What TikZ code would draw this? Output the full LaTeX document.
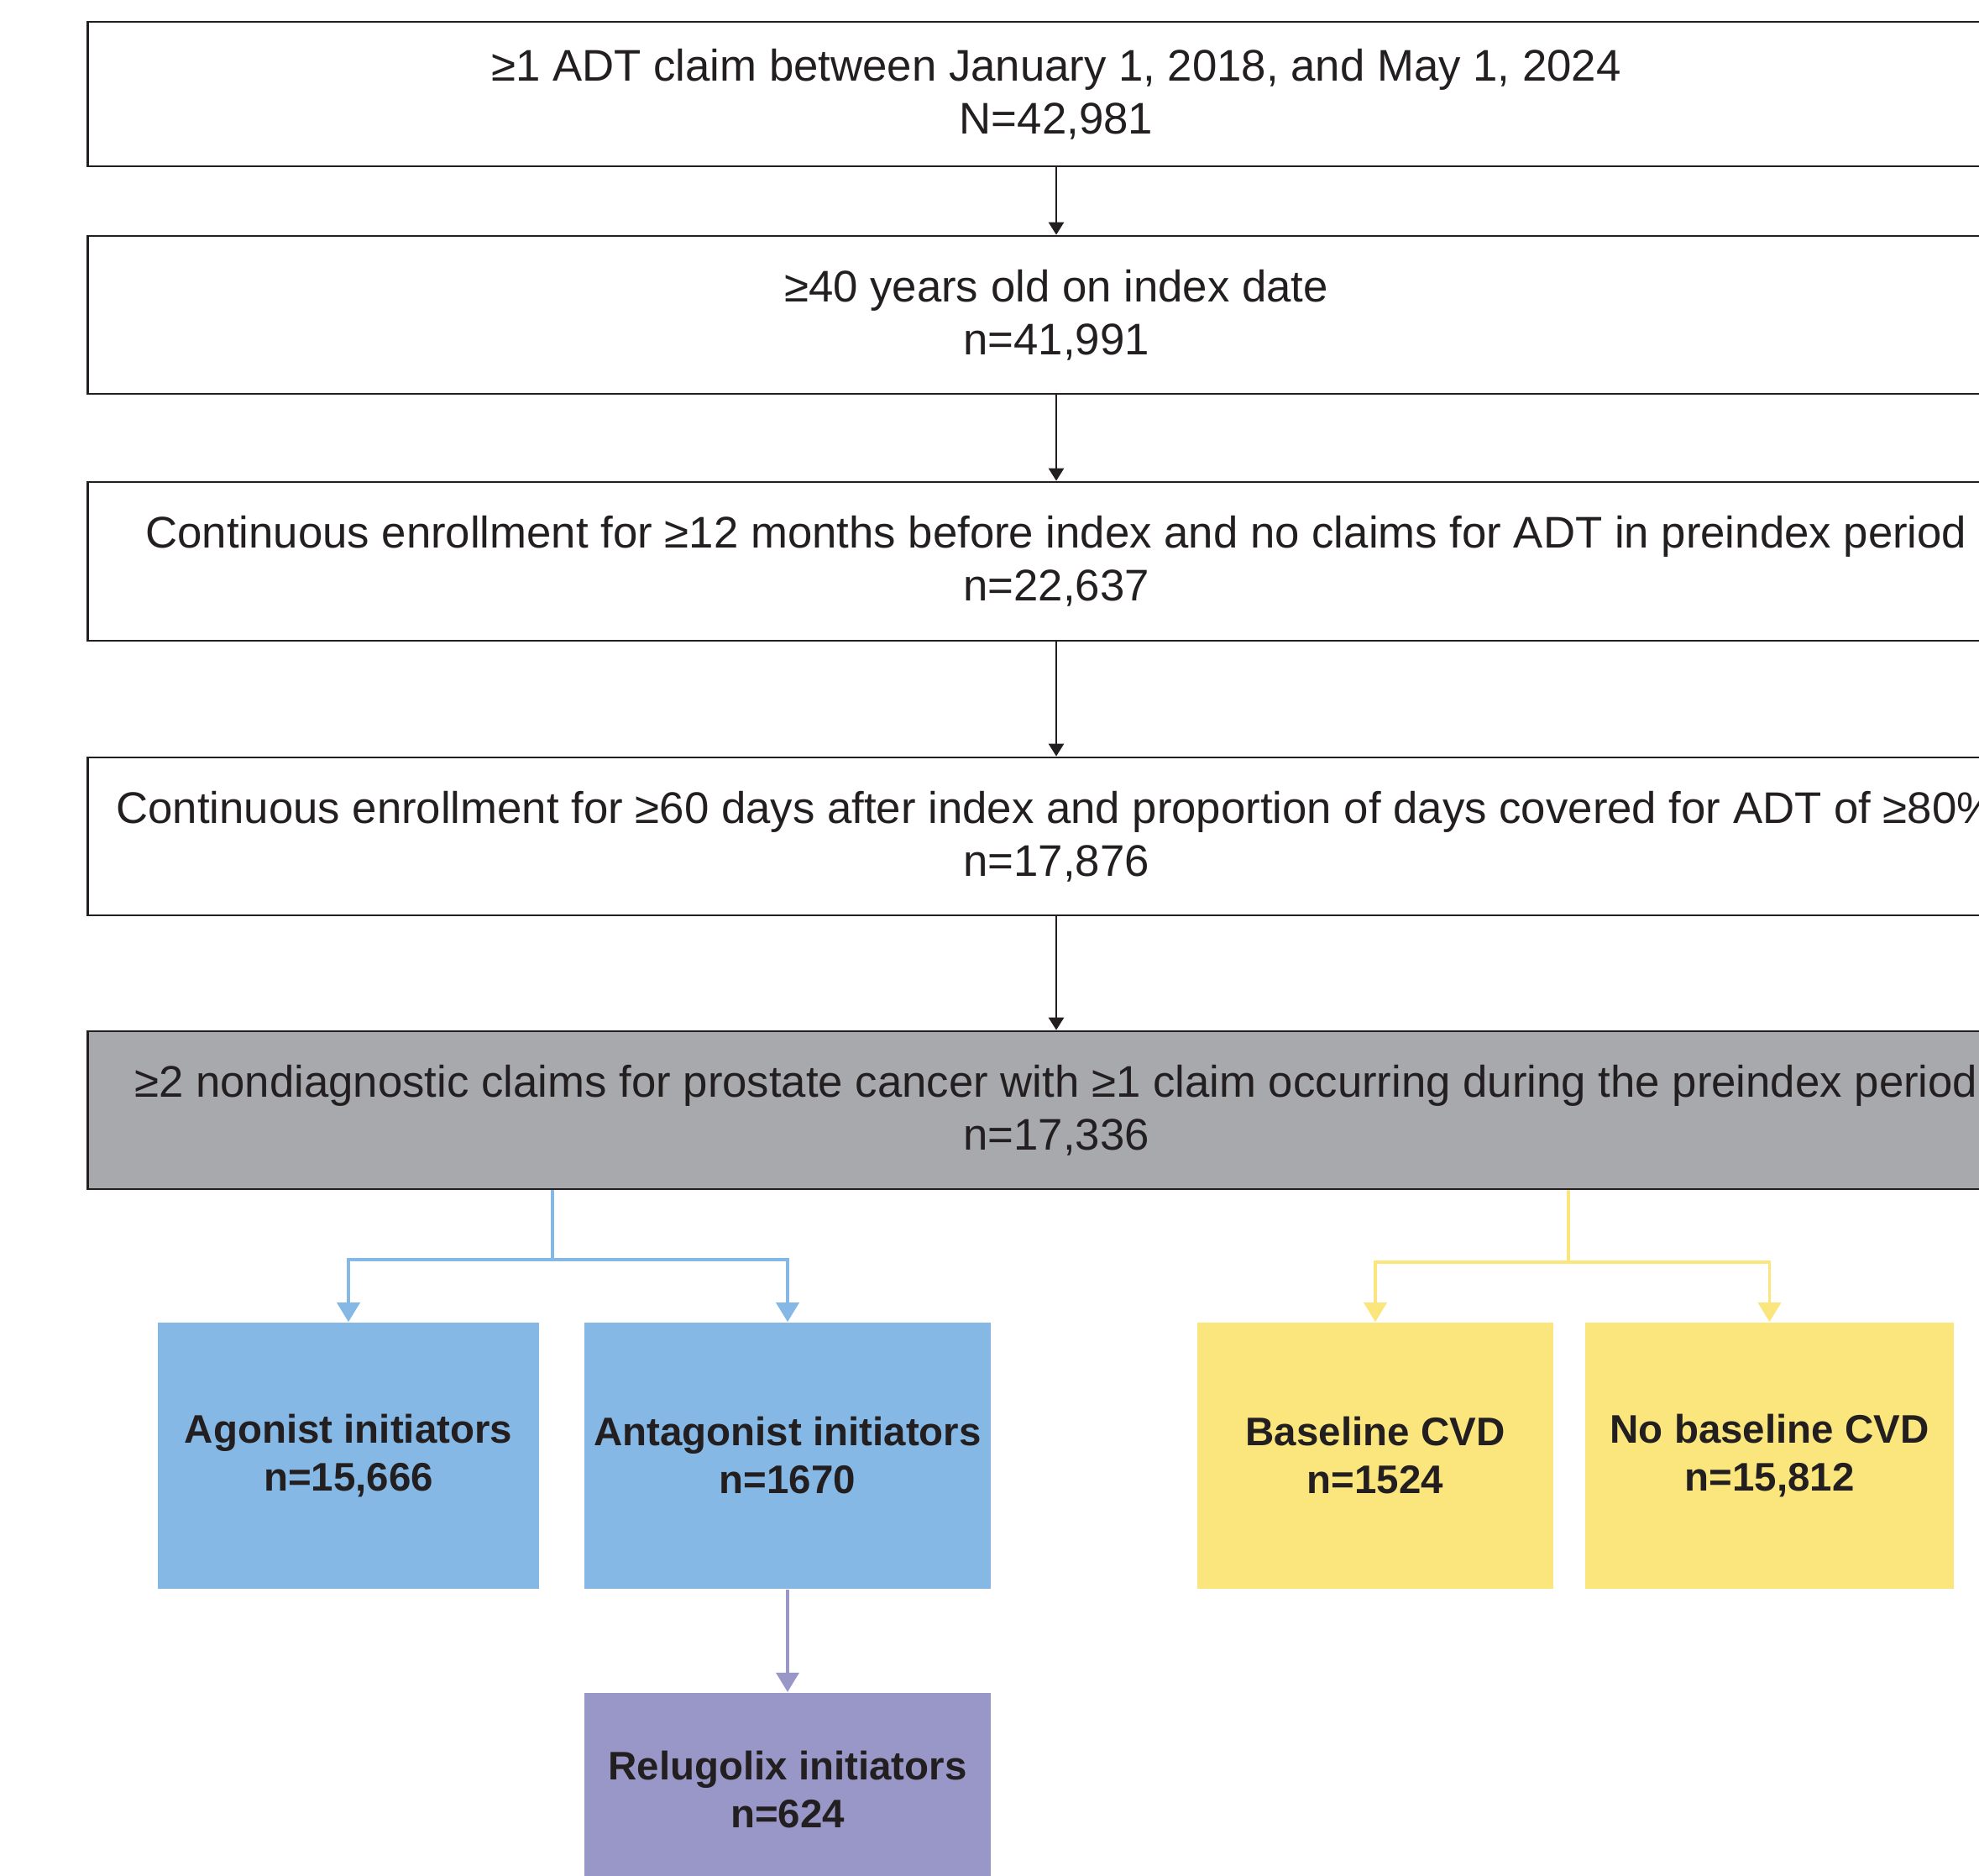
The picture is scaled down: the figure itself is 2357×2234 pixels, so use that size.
\documentclass[tikz,border=0pt]{standalone}
\usepackage{fontspec}
\setmainfont{Liberation Sans}
\usetikzlibrary{positioning,arrows.meta}
\definecolor{txtgray}{HTML}{231F20}
\definecolor{boxgray}{HTML}{A7A9AC}
\definecolor{agblue}{HTML}{85B8E4}
\definecolor{cvdyellow}{HTML}{FAE67C}
\definecolor{relpurple}{HTML}{9897C8}
\tikzset{
  stepbox/.style={draw=txtgray,line width=0.75pt,minimum width=23.06cm,align=center,
    text=txtgray,font=\fontsize{15}{18}\selectfont,inner sep=0pt},
  groupbox/.style={fill=#1,align=center,text=txtgray,inner sep=0pt,
    font=\fontsize{13.5}{16.2}\selectfont\bfseries,minimum height=3.17cm},
  flow/.style={draw=txtgray,line width=0.8pt,-{Triangle[length=0.15cm,width=0.18cm]}},
  branch/.style={draw=#1,line width=1.05pt,-{Triangle[length=0.23cm,width=0.27cm]}}
}
\begin{document}
\begin{tikzpicture}[x=0.01cm,y=-0.01cm]
\useasboundingbox (0,0) rectangle (2357,2234);
% selection steps
\node[stepbox,minimum height=1.72cm] (adt) at (1258,112) {≥1 ADT claim between January 1, 2018, and May 1, 2024\\N=42,981};
\node[stepbox,minimum height=1.88cm] (age) at (1258,375) {≥40 years old on index date\\n=41,991};
\node[stepbox,minimum height=1.89cm] (pre) at (1258,668.5) {Continuous enrollment for ≥12 months before index and no claims for ADT in preindex period\\n=22,637};
\node[stepbox,minimum height=1.88cm] (post) at (1258,996) {Continuous enrollment for ≥60 days after index and proportion of days covered for ADT of ≥80\%\\n=17,876};
\node[stepbox,fill=boxgray,minimum height=1.88cm] (pca) at (1258,1322) {≥2 nondiagnostic claims for prostate cancer with ≥1 claim occurring during the preindex period\\n=17,336};
\draw[flow] (adt) -- (age);
\draw[flow] (age) -- (pre);
\draw[flow] (pre) -- (post);
\draw[flow] (post) -- (pca);
% treatment groups
\node[groupbox=agblue,minimum width=4.54cm] (agon) at (415,1733.5) {Agonist initiators\\n=15,666};
\node[groupbox=agblue,minimum width=4.84cm] (antag) at (938,1733.5) {Antagonist initiators\\n=1670};
\node[groupbox=relpurple,minimum width=4.84cm,minimum height=2.31cm,below=1.22cm of antag] (relu) {Relugolix initiators\\n=624};
\coordinate (bsplit) at (658,1500);
\draw[branch=agblue] (bsplit |- pca.south) -- (bsplit) -| (agon.north);
\draw[branch=agblue] (bsplit) -| (antag.north);
\draw[branch=relpurple] (antag) -- (relu);
% CVD groups
\node[groupbox=cvdyellow,minimum width=4.24cm] (base) at (1638,1733.5) {Baseline CVD\\n=1524};
\node[groupbox=cvdyellow,minimum width=4.39cm] (nobase) at (2107.5,1733.5) {No baseline CVD\\n=15,812};
\coordinate (ysplit) at (1868,1503);
\draw[branch=cvdyellow] (ysplit |- pca.south) -- (ysplit) -| (base.north);
\draw[branch=cvdyellow] (ysplit) -| (nobase.north);
\end{tikzpicture}
\end{document}
